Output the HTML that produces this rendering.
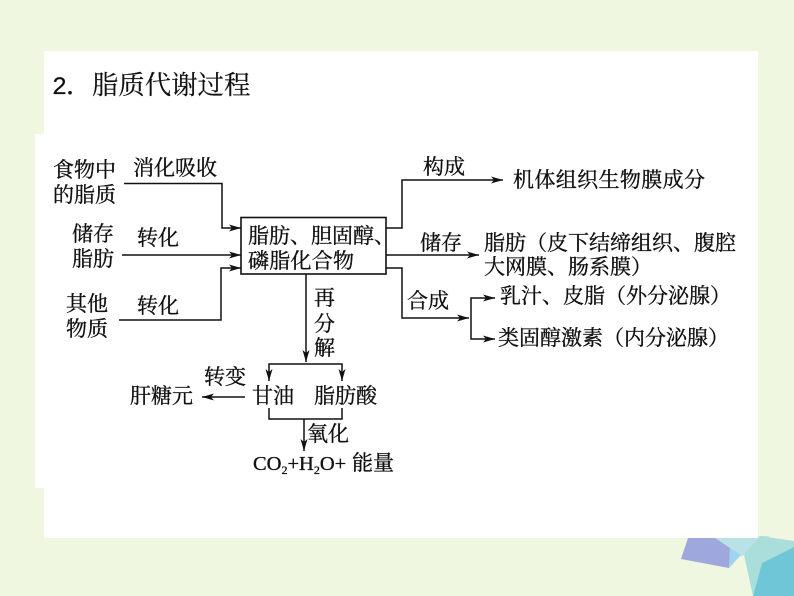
<!DOCTYPE html>
<html lang="zh">
<head>
<meta charset="utf-8">
<style>
html,body{margin:0;padding:0;background:#eff7e1;}
svg{display:block;}
text{font-family:"Liberation Serif","Noto Serif CJK SC",serif;fill:#111;font-size:21px;stroke:#111;stroke-width:.35px;}
</style>
</head>
<body>
<svg width="794" height="596" viewBox="0 0 794 596" xmlns="http://www.w3.org/2000/svg">
<defs>
<marker id="a" markerWidth="13" markerHeight="8" refX="12" refY="4" orient="auto" markerUnits="userSpaceOnUse">
<path d="M0 0.5L12 4L0 7.5L3 4Z" fill="#111"/>
</marker>
</defs>
<rect width="794" height="596" fill="#eff7e1"/>
<!-- decoration -->
<polygon points="715,538 765,538 747,553 740,556 729,568 730,548" fill="#9fd4f0"/>
<polygon points="715,538 770,536 747,553 743,556 730,548" fill="#b9e2e6"/>
<polygon points="688,538 715,538 730,548 729,568 681,559" fill="#9ea8dc"/>
<polygon points="760,536 794,541 794,547 762,563 753,596 744,555" fill="#a9dedb"/>
<polygon points="794,547 762,563 753,596 794,596" fill="#6fc6d7"/>
<!-- white panels -->
<rect x="44" y="51" width="714" height="487" fill="#fff"/>
<rect x="35" y="134" width="12" height="354" fill="#fff"/>
<!-- title -->
<text x="52" y="94" style="font-size:25px;font-family:'Liberation Mono','Noto Serif CJK SC',serif;stroke-width:.2px">2</text>
<text x="66" y="94" style="font-size:26px;stroke-width:.2px">．</text>
<text x="92" y="94" style="font-size:26.4px;stroke-width:.2px">脂质代谢过程</text>
<!-- connectors -->
<g fill="none" stroke="#111" stroke-width="1.5">
<rect x="241" y="217.5" width="145" height="56.5" stroke-width="1.6"/>
<path d="M124 183.5H222V228H241" marker-end="url(#a)"/>
<path d="M122 255H241" marker-end="url(#a)"/>
<path d="M119 320H221V268H241" marker-end="url(#a)"/>
<path d="M386 228H402V180H503" marker-end="url(#a)"/>
<path d="M386 255H479" marker-end="url(#a)"/>
<path d="M386 268H402V318H469" marker-end="url(#a)"/>
<path d="M471 318V298H495" marker-end="url(#a)"/>
<path d="M471 318V339H495" marker-end="url(#a)"/>
<path d="M306 274V362" marker-end="url(#a)"/>
<path d="M305 364H269V381" marker-end="url(#a)"/>
<path d="M305 364H342V381" marker-end="url(#a)"/>
<path d="M269 408V419H342V408"/>
<path d="M304 419V451" marker-end="url(#a)"/>
<path d="M245 397H202" marker-end="url(#a)"/>
</g>
<!-- labels -->
<text x="53" y="177">食物中</text>
<text x="53" y="202">的脂质</text>
<text x="133" y="175">消化吸收</text>
<text x="72" y="241">储存</text>
<text x="72" y="266">脂肪</text>
<text x="137" y="245">转化</text>
<text x="66" y="311">其他</text>
<text x="66" y="336">物质</text>
<text x="137" y="313">转化</text>
<text x="248" y="243" textLength="147">脂肪、胆固醇、</text>
<text x="248" y="268" textLength="106">磷脂化合物</text>
<text x="423" y="174">构成</text>
<text x="513" y="187" textLength="192">机体组织生物膜成分</text>
<text x="420" y="250">储存</text>
<text x="484" y="250">脂肪（皮下结缔组织、腹腔</text>
<text x="484" y="274">大网膜、肠系膜）</text>
<text x="407" y="308">合成</text>
<text x="500" y="303">乳汁、皮脂（外分泌腺）</text>
<text x="498" y="345">类固醇激素（内分泌腺）</text>
<text x="314" y="305">再</text>
<text x="314" y="331">分</text>
<text x="314" y="355">解</text>
<text x="204" y="384">转变</text>
<text x="130" y="403">肝糖元</text>
<text x="252" y="403">甘油</text>
<text x="314" y="403">脂肪酸</text>
<text x="307" y="441">氧化</text>
<text x="253" y="470" style="font-size:20.5px">CO<tspan dy="4" style="font-size:12px">2</tspan><tspan dy="-4">+H</tspan><tspan dy="4" style="font-size:12px">2</tspan><tspan dy="-4">O+</tspan></text>
<text x="352" y="470">能量</text>
</svg>
</body>
</html>
